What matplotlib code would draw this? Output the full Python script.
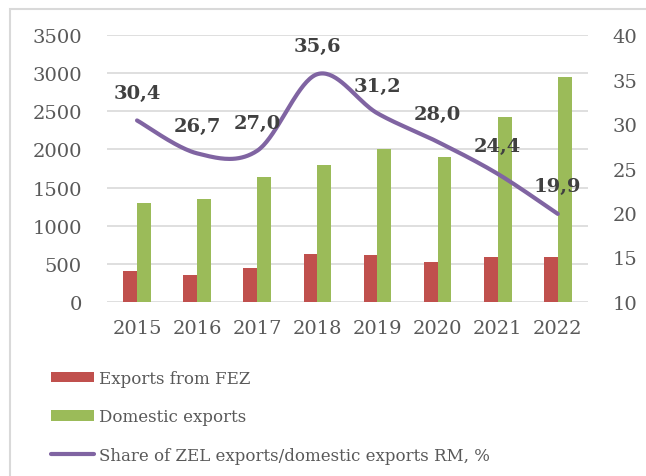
import matplotlib.pyplot as plt
import numpy as np
from matplotlib.patches import Rectangle

# datos del grafico
years = ["2015", "2016", "2017", "2018", "2019", "2020", "2021", "2022"]
exports_fez = [400, 350, 445, 630, 620, 530, 590, 590]
domestic_exports = [1300, 1350, 1640, 1800, 2000, 1900, 2430, 2950]
share = [30.4, 26.7, 27.0, 35.6, 31.2, 28.0, 24.4, 19.9]
share_labels = ["30,4", "26,7", "27,0", "35,6", "31,2", "28,0", "24,4", "19,9"]

RED = "#C0504D"
GREEN = "#9BBB59"
PURPLE = "#8064A2"
GREY = "#595959"

plt.rcParams["font.family"] = ["DejaVu Serif"]


def suavizar(xs, ys, n=40):
    # curva tipo "linea suavizada" de Excel (Bezier por tramos)
    pts = np.column_stack([xs, ys]).astype(float)
    ext = np.vstack([pts[0], pts, pts[-1]])
    out = []
    for i in range(len(pts) - 1):
        p0, p3 = ext[i + 1], ext[i + 2]
        c1 = p0 + (ext[i + 2] - ext[i]) / 6
        c2 = p3 - (ext[i + 3] - ext[i + 1]) / 6
        t = np.linspace(0, 1, n)[:, None]
        seg = (1 - t) ** 3 * p0 + 3 * (1 - t) ** 2 * t * c1 + 3 * (1 - t) * t ** 2 * c2 + t ** 3 * p3
        out.append(seg if i == 0 else seg[1:])
    out = np.vstack(out)
    return out[:, 0], out[:, 1]


fig = plt.figure(figsize=(6.46, 4.77), dpi=100)
ax = fig.add_axes([0.1656, 0.3648, 0.7444, 0.5597])
ax2 = ax.twinx()

x = np.arange(len(years))
w = 0.23
ax.bar(x - w / 2, exports_fez, w, color=RED, label="Exports from FEZ", zorder=3)
ax.bar(x + w / 2, domestic_exports, w, color=GREEN, label="Domestic exports", zorder=3)

sx, sy = suavizar(x, share)
linea, = ax2.plot(sx, sy, color=PURPLE, linewidth=3, solid_capstyle="round",
                  label="Share of ZEL exports/domestic exports RM, %")
for xi, yi, lab in zip(x, share, share_labels):
    ax2.annotate(lab, (xi, yi), xytext=(0, 20), textcoords="offset points",
                 ha="center", va="center", fontsize=14, fontweight="bold", color="#404040")

ax.set_xlim(-0.5, len(years) - 0.5)
ax.set_ylim(0, 3500)
ax.set_yticks(np.arange(0, 3501, 500))
ax2.set_ylim(10, 40)
ax2.set_yticks(np.arange(10, 41, 5))
ax.set_xticks(x)
ax.set_xticklabels(years)

ax.grid(axis="y", color="#D9D9D9", linewidth=1.2, zorder=0)
ax.set_axisbelow(True)
for a in (ax, ax2):
    for s in a.spines.values():
        s.set_visible(False)
    a.tick_params(length=0, labelsize=14, colors=GREY)
ax.tick_params(axis="y", pad=18)
ax.tick_params(axis="x", pad=12)
ax2.tick_params(axis="y", pad=18)

h1, l1 = ax.get_legend_handles_labels()
fig.legend(h1 + [linea], l1 + [linea.get_label()], loc="upper left",
           bbox_to_anchor=(44 / 646, 1 - 364 / 477), frameon=False, fontsize=12,
           labelcolor=GREY, handlelength=2.6, handleheight=0.6, handletextpad=0.3,
           labelspacing=1.3, borderaxespad=0)

# marco gris de la figura
fig.patches.append(Rectangle((10 / 646, -0.01), 1.0, 1 - 10 / 477 + 0.01,
                             transform=fig.transFigure, fill=False,
                             edgecolor="#D9D9D9", linewidth=1.5))

plt.savefig("out.png")
